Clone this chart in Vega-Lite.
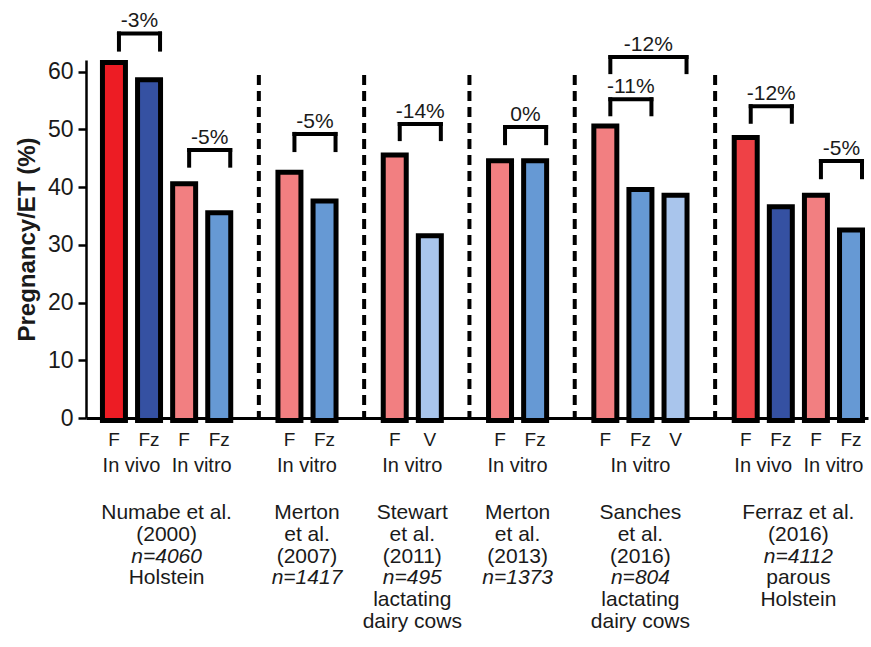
{
  "$schema": "https://vega.github.io/schema/vega-lite/v6.json",
  "width": 782,
  "height": 358,
  "autosize": {"type": "none"},
  "padding": {"left": 86, "top": 60, "right": 3, "bottom": 229},
  "background": "white",
  "config": {
    "view": {"stroke": null},
    "font": "Liberation Sans",
    "text": {"color": "#1a1a1a", "baseline": "alphabetic", "align": "center", "lineHeight": 21.8},
    "axisX": {"ticks": false, "labelFontSize": 19, "labelPadding": 12, "labelColor": "#1a1a1a", "labelAngle": 0, "domainColor": "#000", "domainWidth": 3, "grid": false, "zindex": 1, "labelFont": "Liberation Sans"},
    "axisY": {"labelFontSize": 23, "labelColor": "#1a1a1a", "labelFont": "Liberation Sans", "tickSize": 8, "tickWidth": 2.5, "tickColor": "#000", "domainColor": "#000", "domainWidth": 2.5, "labelPadding": 5, "grid": false, "zindex": 1, "titleFont": "Liberation Sans", "titleFontSize": 24, "titleFontWeight": "bold", "titleColor": "#1a1a1a", "titlePadding": 8}
  },
  "datasets": {
    "bars": [
      {"slot": "N|vivo|F", "kind": "F in vivo", "value": 62},
      {"slot": "N|vivo|Fz", "kind": "Fz in vivo", "value": 59},
      {"slot": "N|vitro|F", "kind": "F in vitro", "value": 41},
      {"slot": "N|vitro|Fz", "kind": "Fz in vitro", "value": 36},
      {"slot": "M07|vitro|F", "kind": "F in vitro", "value": 43},
      {"slot": "M07|vitro|Fz", "kind": "Fz in vitro", "value": 38},
      {"slot": "S11|vitro|F", "kind": "F in vitro", "value": 46},
      {"slot": "S11|vitro|V", "kind": "V in vitro", "value": 32},
      {"slot": "M13|vitro|F", "kind": "F in vitro", "value": 45},
      {"slot": "M13|vitro|Fz", "kind": "Fz in vitro", "value": 45},
      {"slot": "S16|vitro|F", "kind": "F in vitro", "value": 51},
      {"slot": "S16|vitro|Fz", "kind": "Fz in vitro", "value": 40},
      {"slot": "S16|vitro|V", "kind": "V in vitro", "value": 39},
      {"slot": "Fe16|vivo|F", "kind": "F in vivo 2016", "value": 49},
      {"slot": "Fe16|vivo|Fz", "kind": "Fz in vivo", "value": 37},
      {"slot": "Fe16|vitro|F", "kind": "F in vitro", "value": 39},
      {"slot": "Fe16|vitro|Fz", "kind": "Fz in vitro", "value": 33}
    ],
    "separators": [
      {"slot": "sep1"}, {"slot": "sep2"}, {"slot": "sep3"}, {"slot": "sep4"}, {"slot": "sep5"}
    ],
    "brackets": [
      {"slot": "N|vivo|F", "slot2": "N|vivo|Fz", "top": 66.6, "bottom": 63.8, "label": "-3%", "span": 1},
      {"slot": "N|vitro|F", "slot2": "N|vitro|Fz", "top": 46.4, "bottom": 43.7, "label": "-5%", "span": 1},
      {"slot": "M07|vitro|F", "slot2": "M07|vitro|Fz", "top": 49.2, "bottom": 46.4, "label": "-5%", "span": 1},
      {"slot": "S11|vitro|F", "slot2": "S11|vitro|V", "top": 50.9, "bottom": 48.3, "label": "-14%", "span": 1},
      {"slot": "M13|vitro|F", "slot2": "M13|vitro|Fz", "top": 50.4, "bottom": 47.6, "label": "0%", "span": 1},
      {"slot": "S16|vitro|F", "slot2": "S16|vitro|Fz", "top": 55.2, "bottom": 52.6, "label": "-11%", "span": 1},
      {"slot": "S16|vitro|F", "slot2": "S16|vitro|V", "top": 62.5, "bottom": 59.9, "label": "-12%", "span": 2},
      {"slot": "Fe16|vivo|F", "slot2": "Fe16|vivo|Fz", "top": 54.0, "bottom": 51.3, "label": "-12%", "span": 1},
      {"slot": "Fe16|vitro|F", "slot2": "Fe16|vitro|Fz", "top": 44.5, "bottom": 41.7, "label": "-5%", "span": 1}
    ],
    "groups": [
      {"slot": "N|vivo|F", "where": "mid", "text": "In vivo"},
      {"slot": "N|vitro|F", "where": "mid", "text": "In vitro"},
      {"slot": "M07|vitro|F", "where": "mid", "text": "In vitro"},
      {"slot": "S11|vitro|F", "where": "mid", "text": "In vitro"},
      {"slot": "M13|vitro|F", "where": "mid", "text": "In vitro"},
      {"slot": "S16|vitro|Fz", "where": "on", "text": "In vitro"},
      {"slot": "Fe16|vivo|F", "where": "mid", "text": "In vivo"},
      {"slot": "Fe16|vitro|F", "where": "mid", "text": "In vitro"}
    ],
    "studyText": [
      {"slot": "N|vivo|Fz", "where": "mid", "block": "head", "start": 1, "lines": ["Numabe et al.", "(2000)"]},
      {"slot": "N|vivo|Fz", "where": "mid", "block": "n", "start": 3, "lines": ["n=4060"]},
      {"slot": "N|vivo|Fz", "where": "mid", "block": "tail", "start": 4, "lines": ["Holstein"]},
      {"slot": "M07|vitro|F", "where": "mid", "block": "head", "start": 1, "lines": ["Merton", "et al.", "(2007)"]},
      {"slot": "M07|vitro|F", "where": "mid", "block": "n", "start": 4, "lines": ["n=1417"]},
      {"slot": "S11|vitro|F", "where": "mid", "block": "head", "start": 1, "lines": ["Stewart", "et al.", "(2011)"]},
      {"slot": "S11|vitro|F", "where": "mid", "block": "n", "start": 4, "lines": ["n=495"]},
      {"slot": "S11|vitro|F", "where": "mid", "block": "tail", "start": 5, "lines": ["lactating", "dairy cows"]},
      {"slot": "M13|vitro|F", "where": "mid", "block": "head", "start": 1, "lines": ["Merton", "et al.", "(2013)"]},
      {"slot": "M13|vitro|F", "where": "mid", "block": "n", "start": 4, "lines": ["n=1373"]},
      {"slot": "S16|vitro|Fz", "where": "on", "block": "head", "start": 1, "lines": ["Sanches", "et al.", "(2016)"]},
      {"slot": "S16|vitro|Fz", "where": "on", "block": "n", "start": 4, "lines": ["n=804"]},
      {"slot": "S16|vitro|Fz", "where": "on", "block": "tail", "start": 5, "lines": ["lactating", "dairy cows"]},
      {"slot": "Fe16|vivo|Fz", "where": "mid", "block": "head", "start": 1, "lines": ["Ferraz et al.", "(2016)"]},
      {"slot": "Fe16|vivo|Fz", "where": "mid", "block": "n", "start": 3, "lines": ["n=4112"]},
      {"slot": "Fe16|vivo|Fz", "where": "mid", "block": "tail", "start": 4, "lines": ["parous", "Holstein"]}
    ]
  },
  "layer": [
    {
      "data": {"name": "bars"},
      "mark": {"type": "bar", "stroke": "#000", "strokeWidth": 5, "strokeJoin": "miter", "yOffset": 2.5},
      "encoding": {
        "x": {
          "field": "slot", "type": "nominal",
          "scale": {
            "domain": ["N|vivo|F", "N|vivo|Fz", "N|vitro|F", "N|vitro|Fz", "sep1", "M07|vitro|F", "M07|vitro|Fz", "sep2", "S11|vitro|F", "S11|vitro|V", "sep3", "M13|vitro|F", "M13|vitro|Fz", "sep4", "S16|vitro|F", "S16|vitro|Fz", "S16|vitro|V", "sep5", "Fe16|vivo|F", "Fe16|vivo|Fz", "Fe16|vitro|F", "Fe16|vitro|Fz"],
            "paddingInner": 0.345, "paddingOuter": 0.3125, "align": 0.75
          },
          "axis": {"title": null, "labelExpr": "split(datum.value, '|')[2] || ''"}
        },
        "y": {
          "field": "value", "type": "quantitative",
          "scale": {"domain": [0, 62], "nice": false, "zero": true},
          "axis": {"title": "Pregnancy/ET (%)", "values": [0, 10, 20, 30, 40, 50, 60]}
        },
        "color": {
          "field": "kind", "type": "nominal", "legend": null,
          "scale": {
            "domain": ["F in vivo", "Fz in vivo", "F in vitro", "Fz in vitro", "V in vitro", "F in vivo 2016"],
            "range": ["#ed1c24", "#3551a2", "#f27f81", "#6699d4", "#a9c5ec", "#ef4146"]
          }
        }
      }
    },
    {
      "data": {"name": "separators"},
      "mark": {"type": "rule", "color": "#000", "strokeWidth": 4, "strokeDash": [10, 6], "xOffset": 4.5},
      "encoding": {
        "x": {"field": "slot", "type": "nominal"},
        "y": {"datum": 59.4, "type": "quantitative"},
        "y2": {"datum": 0}
      }
    },
    {
      "data": {"name": "brackets"},
      "mark": {"type": "rule", "color": "#000", "strokeWidth": 4, "strokeCap": "square", "xOffset": 5, "x2Offset": 11},
      "encoding": {
        "x": {"field": "slot", "type": "nominal"},
        "x2": {"field": "slot2"},
        "y": {"field": "top", "type": "quantitative"}
      }
    },
    {
      "data": {"name": "brackets"},
      "mark": {"type": "rule", "color": "#000", "strokeWidth": 4, "strokeCap": "square", "xOffset": 5},
      "encoding": {
        "x": {"field": "slot", "type": "nominal"},
        "y": {"field": "top", "type": "quantitative"},
        "y2": {"field": "bottom"}
      }
    },
    {
      "data": {"name": "brackets"},
      "mark": {"type": "rule", "color": "#000", "strokeWidth": 4, "strokeCap": "square", "xOffset": 11},
      "encoding": {
        "x": {"field": "slot2", "type": "nominal"},
        "y": {"field": "top", "type": "quantitative"},
        "y2": {"field": "bottom"}
      }
    },
    {
      "data": {"name": "brackets"},
      "transform": [{"filter": "datum.span == 1"}],
      "mark": {"type": "text", "fontSize": 21, "dy": -6, "xOffset": 25.5},
      "encoding": {
        "x": {"field": "slot", "type": "nominal"},
        "y": {"field": "top", "type": "quantitative"},
        "text": {"field": "label"}
      }
    },
    {
      "data": {"name": "brackets"},
      "transform": [{"filter": "datum.span == 2"}],
      "mark": {"type": "text", "fontSize": 21, "dy": -6, "xOffset": 43},
      "encoding": {
        "x": {"field": "slot", "type": "nominal"},
        "y": {"field": "top", "type": "quantitative"},
        "text": {"field": "label"}
      }
    },
    {
      "data": {"name": "groups"},
      "transform": [{"filter": "datum.where == 'mid'"}],
      "mark": {"type": "text", "fontSize": 20, "dy": 54, "xOffset": 17.55},
      "encoding": {
        "x": {"field": "slot", "type": "nominal"},
        "y": {"datum": 0, "type": "quantitative"},
        "text": {"field": "text"}
      }
    },
    {
      "data": {"name": "groups"},
      "transform": [{"filter": "datum.where == 'on'"}],
      "mark": {"type": "text", "fontSize": 20, "dy": 54},
      "encoding": {
        "x": {"field": "slot", "type": "nominal"},
        "y": {"datum": 0, "type": "quantitative"},
        "text": {"field": "text"}
      }
    },
    {
      "data": {"name": "studyText"},
      "transform": [{"filter": "datum.where == 'mid' && datum.start == 1"}],
      "mark": {"type": "text", "fontSize": 21, "dy": 101, "xOffset": 17.55},
      "encoding": {
        "x": {"field": "slot", "type": "nominal"},
        "y": {"datum": 0, "type": "quantitative"},
        "text": {"field": "lines"}
      }
    },
    {
      "data": {"name": "studyText"},
      "transform": [{"filter": "datum.where == 'on' && datum.start == 1"}],
      "mark": {"type": "text", "fontSize": 21, "dy": 101},
      "encoding": {
        "x": {"field": "slot", "type": "nominal"},
        "y": {"datum": 0, "type": "quantitative"},
        "text": {"field": "lines"}
      }
    },
    {
      "data": {"name": "studyText"},
      "transform": [{"filter": "datum.where == 'mid' && datum.block == 'n' && datum.start == 3"}],
      "mark": {"type": "text", "fontSize": 21, "fontStyle": "italic", "dy": 144.6, "xOffset": 17.55},
      "encoding": {
        "x": {"field": "slot", "type": "nominal"},
        "y": {"datum": 0, "type": "quantitative"},
        "text": {"field": "lines"}
      }
    },
    {
      "data": {"name": "studyText"},
      "transform": [{"filter": "datum.where == 'mid' && datum.block == 'n' && datum.start == 4"}],
      "mark": {"type": "text", "fontSize": 21, "fontStyle": "italic", "dy": 166.4, "xOffset": 17.55},
      "encoding": {
        "x": {"field": "slot", "type": "nominal"},
        "y": {"datum": 0, "type": "quantitative"},
        "text": {"field": "lines"}
      }
    },
    {
      "data": {"name": "studyText"},
      "transform": [{"filter": "datum.where == 'on' && datum.block == 'n'"}],
      "mark": {"type": "text", "fontSize": 21, "fontStyle": "italic", "dy": 166.4},
      "encoding": {
        "x": {"field": "slot", "type": "nominal"},
        "y": {"datum": 0, "type": "quantitative"},
        "text": {"field": "lines"}
      }
    },
    {
      "data": {"name": "studyText"},
      "transform": [{"filter": "datum.where == 'mid' && datum.block == 'tail' && datum.start == 4"}],
      "mark": {"type": "text", "fontSize": 21, "dy": 166.4, "xOffset": 17.55},
      "encoding": {
        "x": {"field": "slot", "type": "nominal"},
        "y": {"datum": 0, "type": "quantitative"},
        "text": {"field": "lines"}
      }
    },
    {
      "data": {"name": "studyText"},
      "transform": [{"filter": "datum.where == 'mid' && datum.block == 'tail' && datum.start == 5"}],
      "mark": {"type": "text", "fontSize": 21, "dy": 188.2, "xOffset": 17.55},
      "encoding": {
        "x": {"field": "slot", "type": "nominal"},
        "y": {"datum": 0, "type": "quantitative"},
        "text": {"field": "lines"}
      }
    },
    {
      "data": {"name": "studyText"},
      "transform": [{"filter": "datum.where == 'on' && datum.block == 'tail'"}],
      "mark": {"type": "text", "fontSize": 21, "dy": 188.2},
      "encoding": {
        "x": {"field": "slot", "type": "nominal"},
        "y": {"datum": 0, "type": "quantitative"},
        "text": {"field": "lines"}
      }
    }
  ]
}
